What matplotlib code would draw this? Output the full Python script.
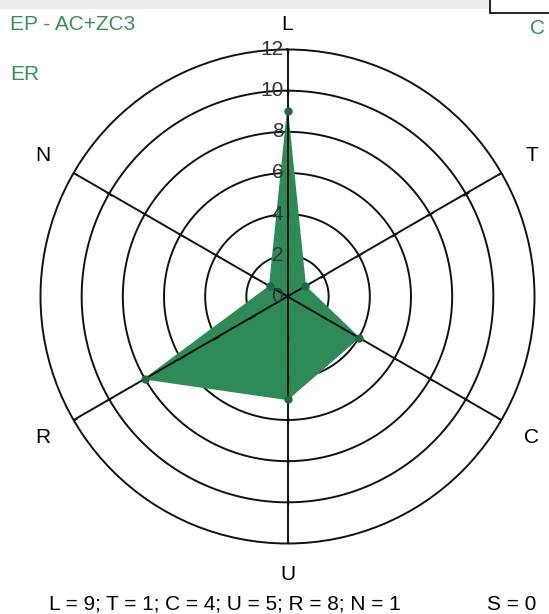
import numpy as np
import matplotlib
matplotlib.use('Agg')
import matplotlib.pyplot as plt
import matplotlib.transforms as mtransforms

# axes in clockwise order starting at the top
labels = ["L", "T", "C", "U", "R", "N"]
values = [9, 1, 4, 5, 8, 1]
rings = [2, 4, 6, 8, 10, 12]
ring_labels = ["0", "2", "4", "6", "8", "10", "12"]

plt.rcParams['font.family'] = ['Liberation Sans', 'DejaVu Sans']
FS = 15

fig = plt.figure(figsize=(5.49, 6.14), dpi=100)
fig.patch.set_facecolor("white")

# grey strip at the top (window remnants)
fig.patches.append(plt.Rectangle((0, 1 - 9 / 614), 1, 9 / 614, transform=fig.transFigure,
                                 facecolor="#ececec", edgecolor="none"))
fig.patches.append(plt.Rectangle((490 / 549, 1 - 13 / 614), 0.2, 14 / 614, transform=fig.transFigure,
                                 facecolor="white", edgecolor="black", linewidth=1.2))

cx, cy, rad = 287.5, 296.5, 247
ax = fig.add_axes([(cx - rad) / 549, (614 - cy - rad) / 614, 2 * rad / 549, 2 * rad / 614],
                  projection="polar")
ax.set_theta_zero_location("N")
ax.set_theta_direction(-1)
ax.set_ylim(0, 12)

angles = np.deg2rad(np.arange(len(labels)) * 60)

# grid
ax.set_yticks(rings)
ax.set_yticklabels([])
ax.set_xticks(angles)
ax.set_xticklabels([])
ax.grid(False)
ax.spines["polar"].set_color("#111111")
ax.spines["polar"].set_linewidth(1.4)
th = np.linspace(0, 2 * np.pi, 400)
for r in rings[:-1]:
    ax.plot(th, np.full_like(th, r), color="#111111", lw=1.4, zorder=1)
for a in angles:
    ax.plot([a, a], [0, 12], color="#111111", lw=1.4, zorder=3)
    # small ticks along each spoke
    ax.plot(np.full(6, a), rings, linestyle="none", marker=(2, 0, -np.rad2deg(a)),
            markersize=5, color="#111111", mew=1.0, zorder=3)

# data polygon
va = np.append(angles, angles[0])
vv = np.append(values, values[0])
ax.fill(va, vv, color="#2e8b57", zorder=2, alpha=1.0)
ax.plot(angles, values, linestyle="none", marker="o", markersize=5,
        color="#1f6b3a", zorder=4)

# radial labels along the L spoke
off = mtransforms.offset_copy(ax.transData, fig=fig, x=-3, y=0, units="points")
for r, t in zip([0] + rings, ring_labels):
    ax.text(0, r, t, transform=off, ha="right", va="center", fontsize=FS, color="#333333", zorder=5)

# axis names
label_r = [13.2, 13.7, 13.7, 13.5, 13.7, 13.7]
for a, lab, lr in zip(angles, labels, label_r):
    ax.text(a, lr, lab, ha="center", va="center", fontsize=FS, color="black")

fig.text(10 / 549, 1 - 25 / 614, "EP - AC+ZC3", color="#3c8c5a", fontsize=FS, va="center", ha="left")
fig.text(10 / 549, 1 - 75 / 614, "ER", color="#3c8c5a", fontsize=FS, va="center", ha="left")
fig.text(530 / 549, 1 - 28 / 614, "C", color="#3c8c5a", fontsize=FS, va="center", ha="left")

fig.text(225 / 549, 1 - 604 / 614, "L = 9; T = 1; C = 4; U = 5; R = 8; N = 1",
         fontsize=FS, ha="center", va="center")
fig.text(512 / 549, 1 - 605 / 614, "S = 0", fontsize=FS, ha="center", va="center")

fig.savefig("out.png", dpi=100)
